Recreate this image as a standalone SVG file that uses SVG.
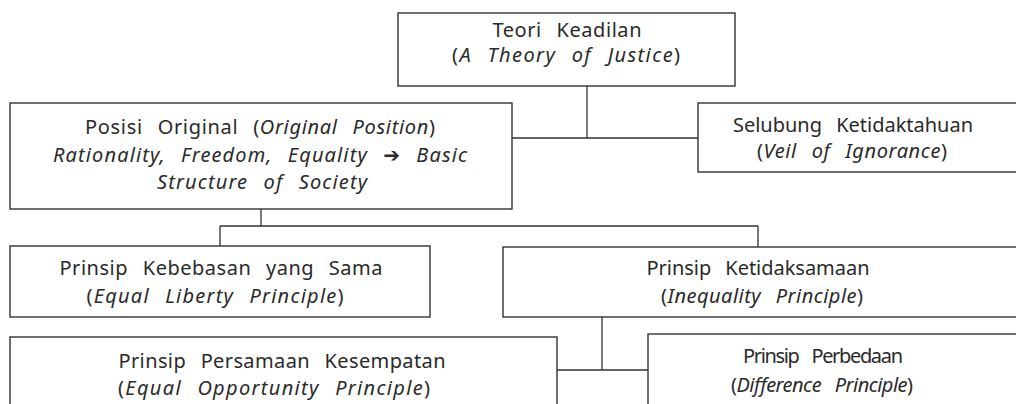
<svg xmlns="http://www.w3.org/2000/svg" width="1016" height="404" viewBox="0 0 1016 404">
<style>
.box{fill:#fff;stroke:#333;stroke-width:1.4}
.ln{fill:none;stroke:#333;stroke-width:1.3}
text{font-family:"Noto Sans","DejaVu Sans",sans-serif;font-size:20px;fill:#2a2a2a;text-anchor:middle;word-spacing:9px}
.i{font-style:italic}
.ar{font-family:"DejaVu Sans",sans-serif;font-weight:bold;font-style:normal}
</style>
<rect width="1016" height="404" fill="#fff"/>
<g id="connectors">
<path class="ln" d="M587 86V138M512 138H698"/>
<path class="ln" d="M261 209V226M220 226H758M220 226V246M758 226V247"/>
<path class="ln" d="M602 317V370M557 370H648"/>
</g>
<g id="n-teori">
<rect class="box" x="398" y="13" width="337" height="73"/>
<text x="567" y="37" textLength="149" lengthAdjust="spacing">Teori Keadilan</text>
<text x="566" y="62" textLength="228" lengthAdjust="spacing">(<tspan class="i">A Theory of Justice</tspan>)</text>
</g>
<g id="n-posisi">
<rect class="box" x="10" y="103" width="502" height="106"/>
<text x="260" y="134" textLength="350" lengthAdjust="spacing">Posisi Original (<tspan class="i">Original Position</tspan>)</text>
<text x="260" y="162" class="i" textLength="414" lengthAdjust="spacing">Rationality, Freedom, Equality <tspan class="ar">➔</tspan> Basic</text>
<text x="262" y="189" class="i" textLength="210" lengthAdjust="spacing">Structure of Society</text>
</g>
<g id="n-selubung">
<rect class="box" x="698" y="103" width="330" height="69"/>
<text x="853" y="132" textLength="240" lengthAdjust="spacing">Selubung Ketidaktahuan</text>
<text x="852" y="158" textLength="190" lengthAdjust="spacing">(<tspan class="i">Veil of Ignorance</tspan>)</text>
</g>
<g id="n-liberty">
<rect class="box" x="10" y="246" width="420" height="71"/>
<text x="221" y="275" textLength="323" lengthAdjust="spacing">Prinsip Kebebasan yang Sama</text>
<text x="215" y="303" textLength="257" lengthAdjust="spacing">(<tspan class="i">Equal Liberty Principle</tspan>)</text>
</g>
<g id="n-inequality">
<rect class="box" x="503" y="247" width="525" height="70"/>
<text x="758" y="275" textLength="223" lengthAdjust="spacing">Prinsip Ketidaksamaan</text>
<text x="762" y="303" textLength="202" lengthAdjust="spacing">(<tspan class="i">Inequality Principle</tspan>)</text>
</g>
<g id="n-opportunity">
<rect class="box" x="10" y="337" width="547" height="90"/>
<text x="282" y="368" textLength="327" lengthAdjust="spacing">Prinsip Persamaan Kesempatan</text>
<text x="274" y="395" textLength="312" lengthAdjust="spacing">(<tspan class="i">Equal Opportunity Principle</tspan>)</text>
</g>
<g id="n-difference">
<rect class="box" x="648" y="334" width="380" height="90"/>
<text x="823" y="363" textLength="160" lengthAdjust="spacing">Prinsip Perbedaan</text>
<text x="822" y="392" textLength="182" lengthAdjust="spacing">(<tspan class="i">Difference Principle</tspan>)</text>
</g>
</svg>
